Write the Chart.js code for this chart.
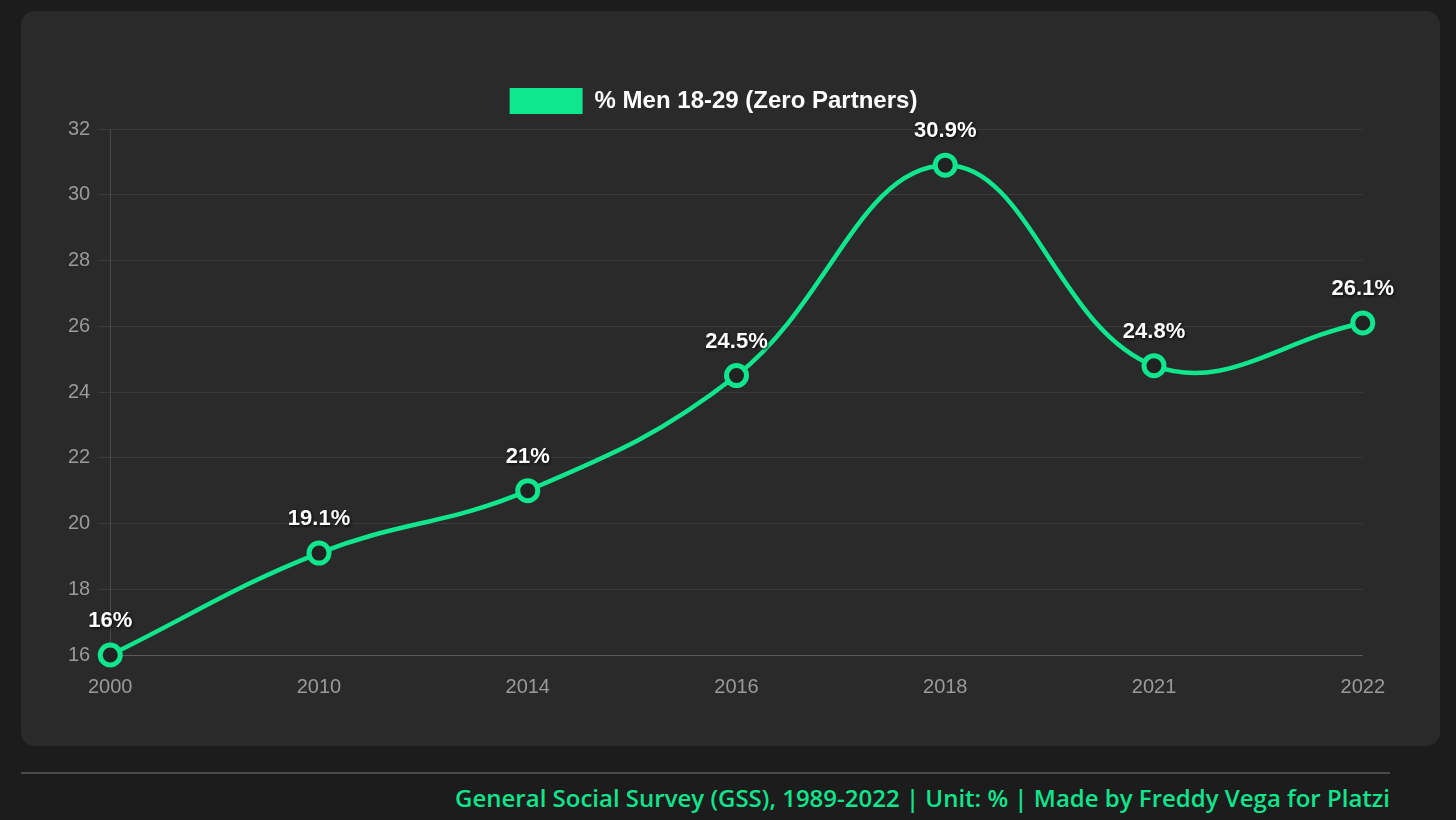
<!DOCTYPE html>
<html lang="en">
<head>
    <meta charset="UTF-8">
    <title>Men 18-29 Zero Partners</title>
    <script src="https://cdn.jsdelivr.net/npm/chart.js@4.4.0/dist/chart.umd.min.js"></script>
    <style>
        body{
            margin: 0;
            background-color: #1c1c1c;
            width: 1456px;
            height: 820px;
            position: relative;
            overflow: hidden;
        }
        #card{
            position: absolute;
            left: 21px;
            top: 11px;
            width: 1419px;
            height: 735px;
            background-color: #2a2a2a;
            border-radius: 14px;
        }
        #wrap{
            position: absolute;
            left: 0px;
            top: 67px;
            width: 1384px;
            height: 641px;
        }
        #line{
            position: absolute;
            left: 21px;
            top: 772px;
            width: 1369px;
            height: 2px;
            background-color: #4a4a4a;
        }
        #source{
            position: absolute;
            right: 66px;
            top: 781px;
            font-family: "Open Sans", sans-serif;
            font-weight: 600;
            font-size: 24px;
            color: #12e38d;
        }
    </style>
</head>
<body>
    <div id="card">
        <div id="wrap"><canvas id="myChart"></canvas></div>
    </div>
    <div id="line"></div>
    <div id="source">General Social Survey (GSS), 1989-2022 | Unit: % | Made by Freddy Vega for Platzi</div>
    <script>
        var years = ["2000", "2010", "2014", "2016", "2018", "2021", "2022"];
        var zeroPartners = [16, 19.1, 21, 24.5, 30.9, 24.8, 26.1];
        var seriesName = "% Men 18-29 (Zero Partners)";
        var green = "#10e68e";
        var font = "'Liberation Sans', Arial, sans-serif";

        // white value labels above every point
        var valueLabels = {
            id: "valueLabels",
            afterDatasetsDraw: function(chart){
                var ctx = chart.ctx;
                var meta = chart.getDatasetMeta(0);
                ctx.save();
                ctx.font = "bold 22px " + font;
                ctx.textAlign = "center";
                ctx.textBaseline = "alphabetic";
                ctx.fillStyle = "#ffffff";
                ctx.shadowColor = "rgba(0,0,0,0.9)";
                ctx.shadowBlur = 3;
                ctx.shadowOffsetX = 1;
                ctx.shadowOffsetY = 1;
                meta.data.forEach(function(pt, i){
                    ctx.fillText(zeroPartners[i] + "%", pt.x, pt.y - 28);
                });
                ctx.restore();
            }
        };

        // a bit more room under the legend, and nudge it left
        var legendTweak = {
            id: "legendTweak",
            beforeUpdate: function(chart){
                if(chart.legend && !chart.legend._patched){
                    var fit = chart.legend.fit;
                    chart.legend.fit = function(){
                        fit.call(this);
                        this.height += 5;
                    };
                    chart.legend._patched = true;
                }
            },
            afterLayout: function(chart){
                if(chart.legend){
                    chart.legend.left -= 14;
                    chart.legend.right -= 14;
                }
            }
        };

        new Chart("myChart", {
            type: "line",
            data: {
                labels: years,
                datasets: [{
                    label: seriesName,
                    data: zeroPartners,
                    borderColor: green,
                    backgroundColor: green,
                    borderWidth: 4.5,
                    tension: 0.4,
                    clip: false,
                    pointRadius: 10,
                    pointHoverRadius: 10,
                    pointBorderWidth: 5,
                    pointBorderColor: green,
                    pointBackgroundColor: "#222222"
                }]
            },
            options: {
                responsive: true,
                maintainAspectRatio: false,
                animation: false,
                layout: {padding: {left: 39, right: 10, top: 0, bottom: 0}},
                plugins: {
                    tooltip: {enabled: false},
                    legend: {
                        display: true,
                        labels: {
                            color: "#ffffff",
                            boxWidth: 73,
                            boxHeight: 26,
                            padding: 10,
                            font: {family: font, size: 24, weight: "bold"},
                            generateLabels: function(chart){
                                return [{
                                    text: seriesName,
                                    fillStyle: green,
                                    strokeStyle: green,
                                    lineWidth: 0,
                                    fontColor: "#ffffff",
                                    datasetIndex: 0
                                }];
                            }
                        }
                    }
                },
                scales: {
                    x: {
                        offset: false,
                        grid: {display: false, drawTicks: false},
                        border: {display: true, color: "#5a5a5a"},
                        ticks: {
                            color: "#9a9a9a",
                            padding: 20,
                            font: {family: font, size: 20}
                        }
                    },
                    y: {
                        min: 16,
                        max: 32,
                        ticks: {
                            stepSize: 2,
                            color: "#9a9a9a",
                            padding: 8,
                            font: {family: font, size: 20}
                        },
                        grid: {color: "#3a3a3a", drawTicks: true, tickLength: 12},
                        border: {display: true, color: "#4a4a4a"}
                    }
                }
            },
            plugins: [valueLabels, legendTweak]
        });
    </script>
</body>
</html>
